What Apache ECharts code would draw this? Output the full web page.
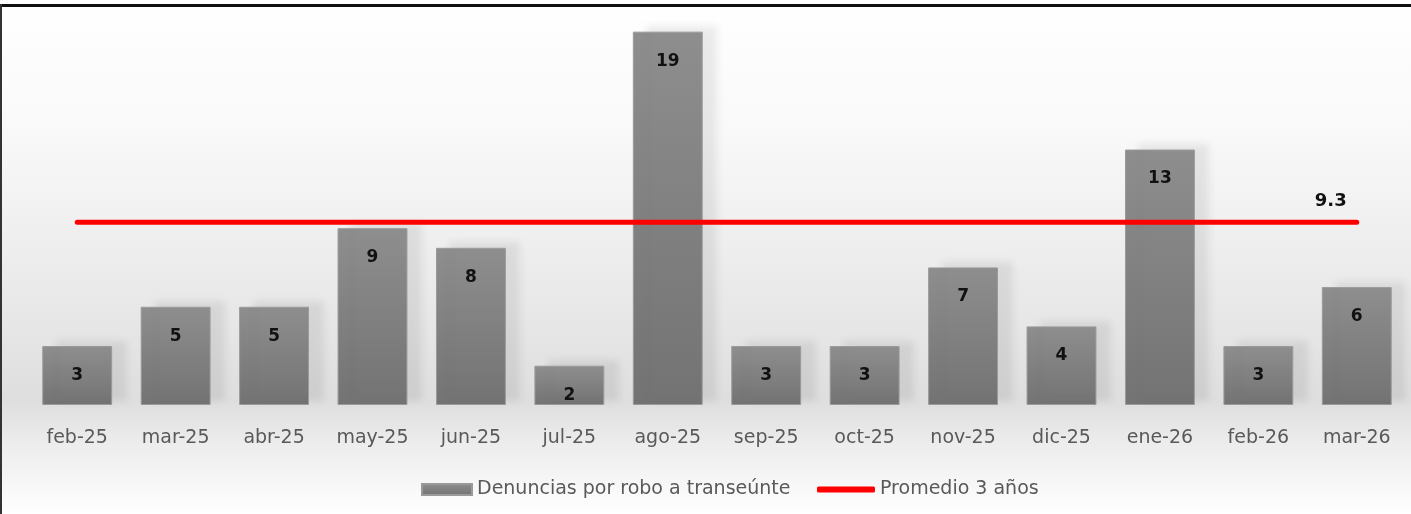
<!DOCTYPE html>
<html lang="es">
<head>
    <meta charset="UTF-8">
    <title>Denuncias por robo a transeúnte</title>
    <script src="https://cdn.jsdelivr.net/npm/echarts@6/dist/echarts.min.js"></script>
    <style>
        html, body { margin: 0; padding: 0; background: #fff; }
    </style>
</head>
<body>
<div id="main" style="width: 1411px;height:514px;"></div>
<script type="text/javascript">
    // datos
    var meses = ['feb-25', 'mar-25', 'abr-25', 'may-25', 'jun-25', 'jul-25', 'ago-25',
        'sep-25', 'oct-25', 'nov-25', 'dic-25', 'ene-26', 'feb-26', 'mar-26'];
    var denuncias = [3, 5, 5, 9, 8, 2, 19, 3, 3, 7, 4, 13, 3, 6];
    var promedio = [9.3, 9.3, 9.3, 9.3, 9.3, 9.3, 9.3, 9.3, 9.3, 9.3, 9.3, 9.3, 9.3, 9.3];

    var nombreBarras = 'Denuncias por robo a transeúnte';
    var nombreLinea = 'Promedio 3 años';

    var myChart = echarts.init(document.getElementById('main'));

    var textoLeyenda = { color: '#595959', fontSize: 19, fontFamily: 'DejaVu Sans' };

    var option = {
        animation: false,
        backgroundColor: {
            type: 'linear', x: 0, y: 0, x2: 0, y2: 1,
            colorStops: [
                { offset: 0, color: '#ffffff' },
                { offset: 0.25, color: '#f9f9f9' },
                { offset: 0.6, color: '#e8e8e8' },
                { offset: 0.78, color: '#dedede' },
                { offset: 0.86, color: '#ececec' },
                { offset: 1, color: '#ffffff' }
            ]
        },
        graphic: [
            { type: 'rect', shape: { x: 0, y: 4, width: 1411, height: 3 }, style: { fill: '#111' } },
            { type: 'rect', shape: { x: 0, y: 4, width: 2, height: 510 }, style: { fill: '#333' } }
        ],
        textStyle: { fontFamily: 'DejaVu Sans' },
        grid: {
            left: 28,
            right: 5,
            top: 12,
            bottom: 109
        },
        // dos leyendas para que cada icono tenga su propio tamaño
        legend: [
            {
                top: 475,
                left: 416,
                itemWidth: 50,
                itemHeight: 11,
                icon: 'rect',
                textStyle: textoLeyenda,
                data: [nombreBarras]
            },
            {
                top: 475,
                left: 812,
                itemWidth: 58,
                itemHeight: 6,
                icon: 'roundRect',
                textStyle: textoLeyenda,
                data: [nombreLinea]
            }
        ],
        xAxis: {
            type: 'category',
            data: meses,
            axisLine: { show: false },
            axisTick: { show: false },
            axisLabel: { color: '#595959', fontSize: 19, margin: 24, fontFamily: 'DejaVu Sans' }
        },
        yAxis: {
            type: 'value',
            min: 0,
            max: 20,
            show: false
        },
        series: [
            {
                name: nombreBarras,
                type: 'bar',
                data: denuncias,
                barCategoryGap: '29%',
                itemStyle: {
                    color: {
                        type: 'linear', x: 0, y: 0, x2: 0, y2: 1,
                        colorStops: [
                            { offset: 0, color: '#8e8e8e' },
                            { offset: 1, color: '#737373' }
                        ]
                    },
                    borderColor: '#9a9a9a',
                    borderWidth: 1,
                    shadowColor: 'rgba(0,0,0,0.08)',
                    shadowBlur: 8,
                    shadowOffsetX: 14,
                    shadowOffsetY: -5
                },
                label: {
                    show: true,
                    position: 'insideTop',
                    distance: 21,
                    color: '#111',
                    fontWeight: 'bold',
                    fontSize: 17,
                    fontFamily: 'DejaVu Sans'
                }
            },
            {
                name: nombreLinea,
                type: 'line',
                data: promedio,
                symbol: 'none',
                z: 5,
                lineStyle: { color: '#ff0000', width: 5, cap: 'round' },
                itemStyle: { color: '#ff0000' },
                endLabel: {
                    show: true,
                    offset: [-50, -21],
                    formatter: function (p) { return Number(p.value).toFixed(1); },
                    color: '#111',
                    fontWeight: 'bold',
                    fontSize: 18,
                    fontFamily: 'DejaVu Sans'
                }
            }
        ]
    };

    myChart.setOption(option);
</script>
</body>
</html>
